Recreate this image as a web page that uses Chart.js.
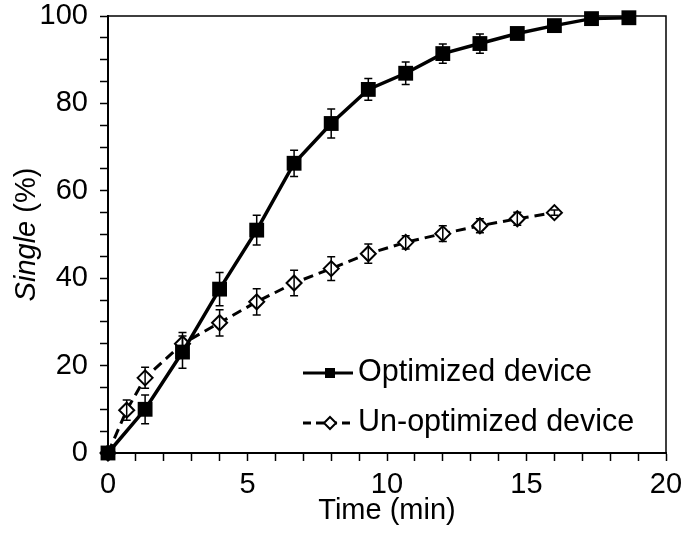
<!DOCTYPE html>
<html>
<head>
<meta charset="utf-8">
<script src="https://cdn.jsdelivr.net/npm/chart.js@4.4.0/dist/chart.umd.min.js"></script>
<style>
  html, body { margin: 0; padding: 0; background: #fff; }
  #wrap { width: 681px; height: 534px; }
</style>
</head>
<body>
<div id="wrap"><canvas id="chart" width="681" height="534"></canvas></div>
<script>
// time points (min) and single-cell percentages
const timeOpt = [0, 1.33, 2.67, 4, 5.33, 6.67, 8, 9.33, 10.67, 12, 13.33, 14.67, 16, 17.33, 18.67];
const singleOpt = [0, 10, 23.1, 37.5, 51, 66.3, 75.4, 83.2, 86.9, 91.4, 93.7, 96, 97.8, 99.4, 99.6];
const errOpt = [0, 3.3, 3.7, 3.8, 3.4, 3, 3.3, 2.5, 2.6, 2.2, 2.2, 1, 0.6, 0.5, 0.5];

const timeUn = [0, 0.67, 1.33, 2.67, 4, 5.33, 6.67, 8, 9.33, 10.67, 12, 13.33, 14.67, 16];
const singleUn = [0, 9.8, 17.2, 25, 29.8, 34.6, 38.9, 42.2, 45.6, 48.2, 50.2, 52, 53.6, 55];
const errUn = [0, 2.3, 2.4, 2.6, 3, 3, 2.9, 2.7, 2.2, 1.5, 1.8, 1.6, 1.5, 0.6];

const seriesNames = ["Optimized device", "Un-optimized device"];
const xMajorTicks = [0, 5, 10, 15, 20];
const yMajorTicks = [0, 20, 40, 60, 80, 100];

const FONT = "'Liberation Sans', Arial, sans-serif";

function toPoints(xs, ys) {
  return xs.map((x, i) => ({ x: x, y: ys[i] }));
}

// vertical error bars with caps, through the chart's scales
const errorBars = {
  id: "errorBars",
  afterDatasetsDraw(chart) {
    const ctx = chart.ctx;
    const xs = chart.scales.x, ys = chart.scales.y;
    ctx.save();
    ctx.strokeStyle = "#000";
    ctx.lineWidth = 1.5;
    chart.data.datasets.forEach((ds) => {
      ds.data.forEach((p, i) => {
        const e = ds.errors[i];
        if (!e) return;
        const px = xs.getPixelForValue(p.x);
        const top = ys.getPixelForValue(p.y + e);
        const bot = ys.getPixelForValue(p.y - e);
        ctx.beginPath();
        ctx.moveTo(px, top); ctx.lineTo(px, bot);
        ctx.moveTo(px - 4, top); ctx.lineTo(px + 4, top);
        ctx.moveTo(px - 4, bot); ctx.lineTo(px + 4, bot);
        ctx.stroke();
      });
    });
    ctx.restore();
  }
};

// frame, y title with italic word, and the in-plot legend
const decor = {
  id: "decor",
  afterDraw(chart) {
    const ctx = chart.ctx;
    const a = chart.chartArea;
    ctx.save();
    // top and right frame
    ctx.strokeStyle = "#000";
    ctx.lineWidth = 1.5;
    ctx.beginPath();
    ctx.moveTo(a.left, a.top); ctx.lineTo(a.right, a.top); ctx.lineTo(a.right, a.bottom);
    ctx.stroke();

    // y title
    ctx.save();
    ctx.translate(27, (a.top + a.bottom) / 2);
    ctx.rotate(-Math.PI / 2);
    ctx.fillStyle = "#000";
    ctx.textBaseline = "middle";
    ctx.font = "italic 29px " + FONT;
    const w1 = ctx.measureText("Single").width;
    ctx.font = "29px " + FONT;
    const w2 = ctx.measureText(" (%)").width;
    let x0 = -(w1 + w2) / 2;
    ctx.font = "italic 29px " + FONT;
    ctx.fillText("Single", x0, 0);
    ctx.font = "29px " + FONT;
    ctx.fillText(" (%)", x0 + w1, 0);
    ctx.restore();

    // legend
    const lx = a.left + 195, ly = a.bottom - 80, gap = 50;
    ctx.lineWidth = 3;
    ctx.beginPath();
    ctx.moveTo(lx, ly); ctx.lineTo(lx + 50, ly);
    ctx.stroke();
    ctx.fillStyle = "#000";
    ctx.fillRect(lx + 22, ly - 5, 10, 10);

    ctx.setLineDash([8, 5]);
    ctx.beginPath();
    ctx.moveTo(lx, ly + gap); ctx.lineTo(lx + 50, ly + gap);
    ctx.stroke();
    ctx.setLineDash([]);
    ctx.lineWidth = 2;
    ctx.fillStyle = "#fff";
    ctx.beginPath();
    const cx = lx + 27, cy = ly + gap;
    ctx.moveTo(cx, cy - 6); ctx.lineTo(cx + 6, cy); ctx.lineTo(cx, cy + 6); ctx.lineTo(cx - 6, cy); ctx.closePath();
    ctx.fill(); ctx.stroke();

    ctx.fillStyle = "#000";
    ctx.font = "30.5px " + FONT;
    ctx.textBaseline = "middle";
    ctx.fillText(seriesNames[0], lx + 55, ly);
    ctx.fillText(seriesNames[1], lx + 55, ly + gap);
    ctx.restore();
  }
};

const config = {
  type: "line",
  data: {
    datasets: [
      {
        label: seriesNames[0],
        data: toPoints(timeOpt, singleOpt),
        errors: errOpt,
        borderColor: "#000",
        backgroundColor: "#000",
        borderWidth: 3.5,
        pointStyle: "rect",
        pointRadius: 10.5,
        pointBorderWidth: 0,
        pointBackgroundColor: "#000",
        tension: 0,
        clip: false,
      },
      {
        label: seriesNames[1],
        data: toPoints(timeUn, singleUn),
        errors: errUn,
        borderColor: "#000",
        backgroundColor: "#fff",
        borderWidth: 3,
        borderDash: [10, 6],
        pointStyle: "rectRot",
        pointRadius: 7.5,
        pointBorderWidth: 2,
        pointBackgroundColor: "#fff",
        pointBorderColor: "#000",
        tension: 0,
        clip: false,
      },
    ],
  },
  options: {
    responsive: false,
    animation: false,
    layout: { padding: 0 },
    plugins: { legend: { display: false }, tooltip: { enabled: false } },
    scales: {
      x: {
        type: "linear",
        min: 0,
        max: 20,
        afterFit: (s) => { s.height = 81; s.paddingLeft = 0; s.paddingRight = 15; },
        border: { display: true, color: "#000", width: 2 },
        grid: { drawOnChartArea: false, drawTicks: true, tickLength: 8, tickColor: "#000", tickWidth: 1.5 },
        ticks: {
          stepSize: 1,
          autoSkip: false,
          maxRotation: 0,
          padding: 7,
          color: "#000",
          font: { family: FONT, size: 29 },
          callback: (v) => (xMajorTicks.includes(v) ? v : ""),
        },
        title: {
          display: true,
          text: "Time (min)",
          color: "#000",
          font: { family: FONT, size: 29 },
          padding: { top: 0, bottom: 6 },
        },
      },
      y: {
        min: 0,
        max: 100,
        afterFit: (s) => { s.width = 108; s.paddingTop = 16; s.paddingBottom = 0; },
        border: { display: true, color: "#000", width: 2 },
        grid: { drawOnChartArea: false, drawTicks: true, tickLength: 8, tickColor: "#000", tickWidth: 1.5 },
        ticks: {
          stepSize: 5,
          autoSkip: false,
          padding: 12,
          color: "#000",
          font: { family: FONT, size: 29 },
          callback: (v) => (yMajorTicks.includes(v) ? v : ""),
        },
      },
    },
  },
  plugins: [errorBars, decor],
};

const chart = new Chart(document.getElementById("chart"), config);
</script>
</body>
</html>
